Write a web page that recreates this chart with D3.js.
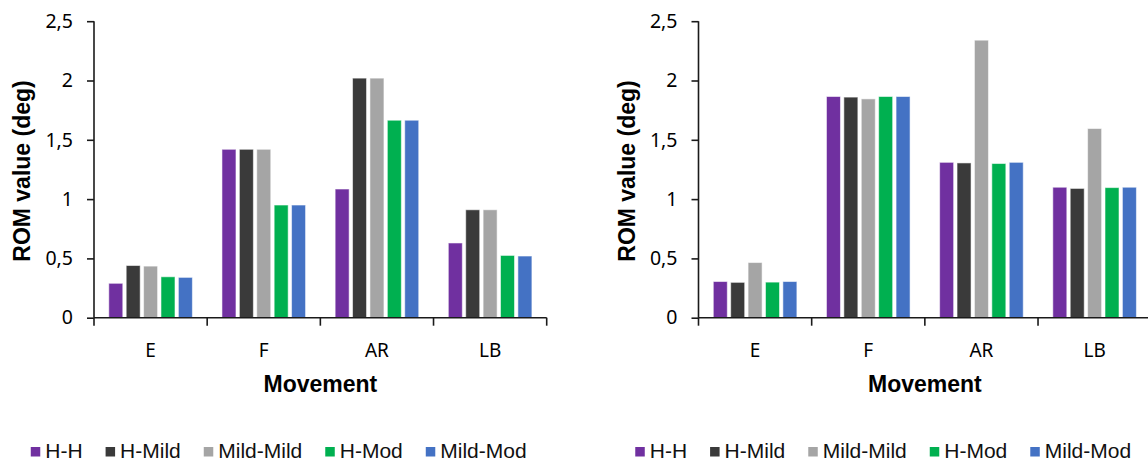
<!DOCTYPE html>
<html>
<head>
<meta charset="utf-8">
<script src="https://cdn.jsdelivr.net/npm/d3@7"></script>
<style>
  html, body { margin: 0; padding: 0; background: #fff; }
  svg { display: block; }
</style>
</head>
<body>
<svg id="chart" width="1148" height="461"></svg>
<script>
// ---- data ----
const categories = ["E", "F", "AR", "LB"];
const seriesNames = ["H-H", "H-Mild", "Mild-Mild", "H-Mod", "Mild-Mod"];
const seriesColors = ["#7030A0", "#3A3A3A", "#A5A5A5", "#00B050", "#4472C4"];
const yTickValues = [0, 0.5, 1, 1.5, 2, 2.5];
const xTitle = "Movement";
const yTitle = "ROM value (deg)";

// left panel values per series (E, F, AR, LB)
const leftHH       = [0.29, 1.42, 1.085, 0.63];
const leftHMild    = [0.44, 1.42, 2.02, 0.91];
const leftMildMild = [0.435, 1.42, 2.02, 0.91];
const leftHMod     = [0.345, 0.95, 1.665, 0.525];
const leftMildMod  = [0.34, 0.95, 1.665, 0.52];

// right panel values per series (E, F, AR, LB)
const rightHH       = [0.305, 1.865, 1.31, 1.10];
const rightHMild    = [0.298, 1.86, 1.305, 1.09];
const rightMildMild = [0.465, 1.845, 2.34, 1.595];
const rightHMod     = [0.30, 1.865, 1.30, 1.097];
const rightMildMod  = [0.305, 1.865, 1.31, 1.10];

const leftData = [leftHH, leftHMild, leftMildMild, leftHMod, leftMildMod];
const rightData = [rightHH, rightHMild, rightMildMild, rightHMod, rightMildMod];

// ---- drawing ----
const svg = d3.select("#chart");
const W = 1148;
const tickFont = "'Noto Sans', 'Open Sans', sans-serif";
const titleFont = "'Liberation Sans', Arial, sans-serif";

function drawPanel(data, plotLeft, plotRight, legendCenter, titleX) {
  const g = svg.append("g");
  const y = d3.scaleLinear().domain([0, 2.5]).range([317.7, 21.2]);
  const x = d3.scaleBand().domain(categories).range([plotLeft, plotRight]).padding(0);
  const xs = d3.scaleBand().domain(seriesNames).range([0, x.bandwidth()])
    .paddingInner(0.195).paddingOuter(0.85);

  // bars
  const rows = [];
  seriesNames.forEach((s, si) => {
    categories.forEach((c, ci) => rows.push({ s, c, v: data[si][ci], color: seriesColors[si] }));
  });
  g.append("g").selectAll("rect").data(rows).join("rect")
    .attr("x", d => x(d.c) + xs(d.s))
    .attr("y", d => y(d.v))
    .attr("width", xs.bandwidth())
    .attr("height", d => y(0) - y(d.v))
    .attr("fill", d => d.color)
    .attr("stroke", "rgba(255,255,255,0.55)")
    .attr("stroke-width", 1);

  // y axis
  const yAxis = g.append("g")
    .attr("transform", `translate(${plotLeft},0)`)
    .call(d3.axisLeft(y).tickValues(yTickValues).tickSize(7).tickPadding(14)
      .tickFormat(d => String(d).replace(".", ",")));
  yAxis.select(".domain").attr("stroke", "#1a1a1a").attr("stroke-width", 1.6)
    .attr("d", `M0,${y(0)}V${y(2.5)}`);
  yAxis.selectAll(".tick line").attr("stroke", "#1a1a1a").attr("stroke-width", 1.6);
  yAxis.selectAll(".tick text").attr("font-family", tickFont).attr("font-size", 19.5).attr("fill", "#000");

  // x axis line + boundary ticks
  const axRight = Math.min(plotRight, W);
  g.append("line").attr("x1", plotLeft).attr("x2", axRight)
    .attr("y1", y(0)).attr("y2", y(0))
    .attr("stroke", "#1a1a1a").attr("stroke-width", 1.6);
  const bounds = categories.map(c => x(c)).concat([plotRight]);
  g.append("g").selectAll("line").data(bounds.filter(b => b <= W)).join("line")
    .attr("x1", d => d).attr("x2", d => d)
    .attr("y1", y(0)).attr("y2", y(0) + 8)
    .attr("stroke", "#1a1a1a").attr("stroke-width", 1.6);

  // x labels via axis
  const xAxis = g.append("g")
    .attr("transform", `translate(0,${y(0)})`)
    .call(d3.axisBottom(x).tickSize(0).tickPadding(26));
  xAxis.select(".domain").remove();
  xAxis.selectAll(".tick text").attr("font-family", tickFont).attr("font-size", 19).attr("fill", "#000");

  // titles
  g.append("text").attr("x", (plotLeft + plotRight) / 2).attr("y", 392)
    .attr("text-anchor", "middle").attr("font-family", titleFont)
    .attr("font-weight", "bold").attr("font-size", 23).attr("fill", "#000")
    .text(xTitle);
  g.append("text")
    .attr("transform", `translate(${titleX},171) rotate(-90)`)
    .attr("text-anchor", "middle").attr("dy", "0.35em").attr("font-family", titleFont)
    .attr("font-weight", "bold").attr("font-size", 23).attr("fill", "#000")
    .text(yTitle);

  // legend
  const lg = g.append("g");
  const items = lg.selectAll("g").data(seriesNames).join("g");
  items.append("rect").attr("x", 0).attr("y", 447).attr("width", 9.5).attr("height", 9.5)
    .attr("fill", (d, i) => seriesColors[i]);
  items.append("text").attr("x", 14.5).attr("y", 458.3)
    .attr("font-family", titleFont).attr("font-size", 21).attr("fill", "#111")
    .text(d => d);
  const widths = [];
  items.each(function () { widths.push(14.5 + d3.select(this).select("text").node().getComputedTextLength()); });
  const gap = 23;
  const total = d3.sum(widths) + gap * (widths.length - 1);
  let cx = legendCenter - total / 2;
  items.each(function (d, i) {
    d3.select(this).attr("transform", `translate(${cx},0)`);
    cx += widths[i] + gap;
  });
}

drawPanel(leftData, 94, 546.7, 278.7, 22);
drawPanel(rightData, 698.5, 1151.2, 883.2, 626.5);
</script>
</body>
</html>
